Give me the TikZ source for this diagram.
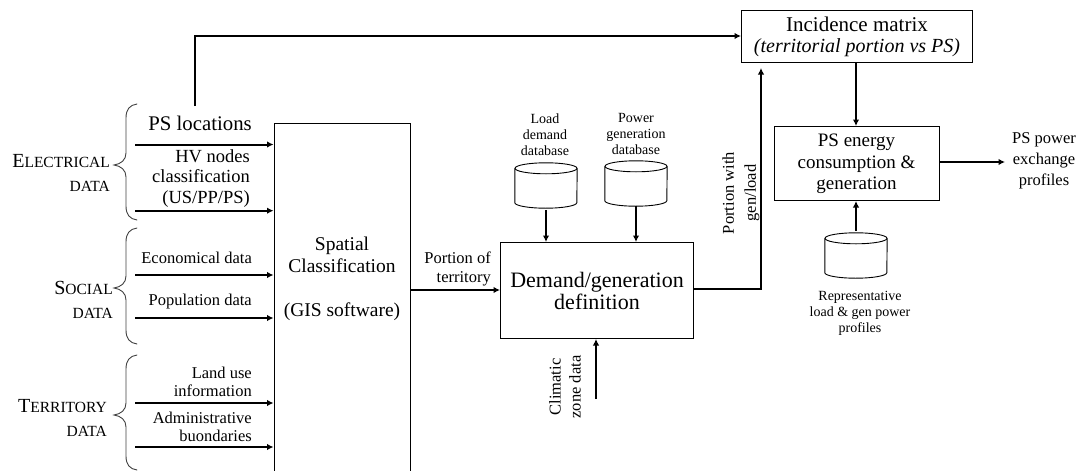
\documentclass[tikz,border=0pt]{standalone}
\usepackage{fontspec}
\setmainfont{Liberation Serif}
\usetikzlibrary{arrows.meta}
\newcommand{\fs}[2]{\fontsize{#1}{#2}\selectfont}
\tikzset{
 x=1pt,y=-1pt,
 blk/.style={draw=black,line width=1pt,inner sep=0pt},
 arr/.style={draw=black,line width=2pt,-{Latex[length=6.5pt,width=6.5pt]}},
 cylbox/.style={inner sep=0pt,minimum width=62pt,minimum height=45pt},
 cylline/.style={draw=black,line width=.9pt},
 brace/.style={draw=black!75,line width=.9pt,line cap=round},
 ttl/.style={inner sep=0pt,align=center,font=\fs{19.5}{22}},
 lab/.style={inner sep=0pt,align=right,anchor=east,font=\fs{16.5}{18}},
 small/.style={inner sep=0pt,align=center,font=\fs{14}{16}},
 grp/.style={inner sep=0pt,align=right,anchor=east,font=\fs{20}{24}},
}
\newcommand{\sct}[2]{#1{\fs{15.5}{24}#2}}
\newcommand{\bracepath}[3]{%
 \draw[brace] (137,#1) .. controls (130,#1+1) and (126,#1+5) .. (126,#1+14) -- (126,#2-12) .. controls (126,#2-5) and (121,#2-1) .. (114,#2) .. controls (121,#2+1) and (126,#2+5) .. (126,#2+12) -- (126,#3-14) .. controls (126,#3-5) and (130,#3-1) .. (137,#3);}
\newcommand{\cyldraw}[1]{%
 \draw[cylline] ([yshift=-5.5pt]#1.north) ellipse [x radius=31pt,y radius=5.5pt];
 \draw[cylline] ([yshift=-5.5pt]#1.north west) -- ([yshift=5.5pt]#1.south west) arc[start angle=180,end angle=360,x radius=31pt,y radius=5.5pt] -- ([yshift=-5.5pt]#1.north east);}
\begin{document}
\begin{tikzpicture}
\useasboundingbox (0,0) rectangle (1079,471);
% boxes
\node[blk,minimum width=136pt,minimum height=348pt,anchor=north west] (spatial) at (273.5,123) {};
\node[ttl] (spatialtxt) at (342,278.5) {Spatial\\Classification\\[22pt](GIS software)};
\node[blk,ttl,minimum width=193pt,minimum height=96pt,anchor=north west,font=\fs{22}{22}] (demand) at (500,242) {Demand/generation\\definition};
\node[blk,ttl,minimum width=231pt,minimum height=52pt,anchor=north west,font=\fs{21}{21}] (inc) at (741,10) {Incidence matrix\\\fs{20}{21}\textit{(territorial portion vs PS)}};
\node[blk,minimum width=165pt,minimum height=74pt,anchor=north west] (ps) at (774,126) {};
\node[ttl,font=\fs{19}{21.5}] (pstxt) at (856.5,164) {PS energy\\consumption \&\\generation};
% cylinders
\node[cylbox] (cyla) at (546,185.5) {}; \cyldraw{cyla}
\node[cylbox] (cylb) at (636,183.5) {}; \cyldraw{cylb}
\node[cylbox] (cylc) at (856,255.5) {}; \cyldraw{cylc}
% free ends
\coordinate (c1) at (135,144.5); \coordinate (c1e) at (273.5,144.5);
\coordinate (c2) at (135,210.7); \coordinate (c2e) at (273.5,210.7);
\coordinate (c3) at (135,275); \coordinate (c3e) at (273.5,275);
\coordinate (c4) at (135,318); \coordinate (c4e) at (273.5,318);
\coordinate (c5) at (135,403); \coordinate (c5e) at (273.5,403);
\coordinate (c6) at (135,447); \coordinate (c6e) at (273.5,447);
\coordinate (top) at (195,106); \coordinate (clim) at (596,399);
\coordinate (inctarget) at (761,68);
\coordinate (outend) at (1005,162);
% connectors
\foreach \a in {1,...,6} {\draw[arr] (c\a) -- (c\a e);}
\draw[arr] (top) -- (195,36) -- (inc.west |- 195,36);
\draw[arr] (spatial.east |- 0,290) -- (demand.west |- 0,290);
\draw[arr] (demand.east |- 0,289) -- (761,289) -- (inctarget);
\draw[arr] (clim) -- (demand.south -| clim);
\draw[arr] ([yshift=-2pt]cyla.south) -- (demand.north -| cyla.south);
\draw[arr] (cylb.south) -- (demand.north -| cylb.south);
\draw[arr] (inc.south -| 856,0) -- (ps.north -| 856,0);
\draw[arr] ([yshift=2pt]cylc.north) -- (ps.south -| 856,0);
\draw[arr] (ps.east |- 0,162) -- (outend);
% braces
\bracepath{104}{165}{220}
\bracepath{228}{288}{344}
\bracepath{355}{415}{470}
% group labels
\node[grp] (g1) at (110,173) {\sct{E}{LECTRICAL}\\\fs{15.5}{24}DATA};
\node[grp] (g2) at (113,299.5) {\sct{S}{OCIAL}\\\fs{15.5}{24}DATA};
\node[grp] (g3) at (107,418) {\sct{T}{ERRITORY}\\\fs{15.5}{24}DATA};
% input labels
\node[lab,font=\fs{20.8}{21}] (l1) at (252,123) {PS locations};
\node[lab,font=\fs{18.5}{20.5}] (l2) at (250,178.5) {HV nodes\\classification\\(US/PP/PS)};
\node[lab] (l3) at (252,258) {Economical data};
\node[lab] (l4) at (252,302) {Population data};
\node[lab] (l5) at (252,382) {Land use\\information};
\node[lab] (l6) at (252,427) {Administrative\\buondaries};
\node[lab,font=\fs{16.5}{19}] (l7) at (491,268.5) {Portion of\\territory};
% rotated and other labels
\node[lab,anchor=center,align=center,rotate=90,font=\fs{16.5}{20}] (l8) at (565,387) {Climatic\\zone data};
\node[lab,anchor=center,align=center,rotate=90,font=\fs{16.5}{22}] (l9) at (741,193) {Portion with\\gen/load};
\node[small] (l10) at (545,134.5) {Load\\demand\\database};
\node[small] (l11) at (636,133.5) {Power\\generation\\database};
\node[small] (l12) at (860,313) {Representative\\load \& gen power\\profiles};
\node[inner sep=0pt,align=center,font=\fs{16.5}{21}] (l13) at (1044,161) {PS power\\exchange\\profiles};
\end{tikzpicture}
\end{document}
